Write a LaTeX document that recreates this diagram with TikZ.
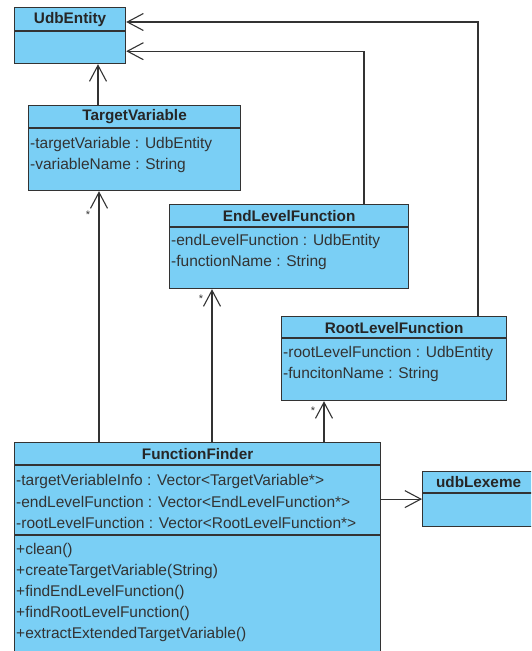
\documentclass[tikz,border=0pt]{standalone}
\usepackage{fontspec}
\setmainfont{Liberation Sans}
\usepackage{tikz}
\usetikzlibrary{calc,arrows.meta}

\definecolor{umlblue}{RGB}{122,207,245}
\definecolor{umlline}{RGB}{51,51,51}

\begin{document}
\begin{tikzpicture}[x=1pt,y=-1pt,
        classbox/.style={draw=umlline,fill=umlblue,line width=1.2pt,anchor=north west,inner sep=0pt},
        divider/.style={draw=umlline,line width=1.2pt},
        classtitle/.style={font=\bfseries\fontsize{15.3}{17}\selectfont,text=black!85,inner sep=0pt},
        attr/.style={font=\fontsize{15.5}{17}\selectfont,text=black!80,anchor=west,inner sep=0pt},
        assoc/.style={draw=umlline,line width=1.1pt,-{Straight Barb[length=16pt,width=17pt,line width=1.1pt]}},
        multlabel/.style={font=\fontsize{11}{11}\selectfont,text=black!80,inner sep=0pt}]
                \useasboundingbox (0,0) rectangle (531,651);
                \clip (0,0) rectangle (531,651);
                % classes
                \node[classbox,minimum width=111pt,minimum height=56pt] (ue) at (14,7) {};
                \node[classbox,minimum width=212pt,minimum height=85pt] (tv) at (28,105) {};
                \node[classbox,minimum width=239pt,minimum height=84pt] (elf) at (169,204) {};
                \node[classbox,minimum width=225pt,minimum height=84pt] (rlf) at (281,316) {};
                \node[classbox,minimum width=366pt,minimum height=220pt] (ff) at (14,442) {};
                \node[classbox,minimum width=112pt,minimum height=55pt] (ul) at (422,471) {};
                % compartments
                \draw[divider] ($(ue.north west)+(0,24)$) -- ($(ue.north east)+(0,24)$);
                \draw[divider] ($(tv.north west)+(0,23)$) -- ($(tv.north east)+(0,23)$);
                \draw[divider] ($(elf.north west)+(0,23)$) -- ($(elf.north east)+(0,23)$);
                \draw[divider] ($(rlf.north west)+(0,22)$) -- ($(rlf.north east)+(0,22)$);
                \draw[divider] ($(ff.north west)+(0,23)$) -- ($(ff.north east)+(0,23)$);
                \draw[divider] ($(ff.north west)+(0,93)$) -- ($(ff.north east)+(0,93)$);
                \draw[divider] ($(ul.north west)+(0,22)$) -- ($(ul.north east)+(0,22)$);
                % names
                \node[classtitle] (ue-name) at ($(ue.north)+(0,13)$) {UdbEntity};
                \node[classtitle] (tv-name) at ($(tv.north)+(0,12)$) {TargetVariable};
                \node[classtitle] (elf-name) at ($(elf.north)+(0,12)$) {EndLevelFunction};
                \node[classtitle] (rlf-name) at ($(rlf.north)+(0,12)$) {RootLevelFunction};
                \node[classtitle] (ff-name) at ($(ff.north)+(0,12)$) {FunctionFinder};
                \node[classtitle] (ul-name) at ($(ul.north)+(0,11)$) {udbLexeme};
                % members
                \foreach \txt [count=\i] in {-targetVariable : UdbEntity,-variableName : String}
                    \node[attr] (tv-a\i) at ($(tv.north west)+(2,18+21*\i)$) {\txt};
                \foreach \txt [count=\i] in {-endLevelFunction : UdbEntity,-functionName : String}
                    \node[attr] (elf-a\i) at ($(elf.north west)+(2,16+21*\i)$) {\txt};
                \foreach \txt [count=\i] in {-rootLevelFunction : UdbEntity,-funcitonName : String}
                    \node[attr] (rlf-a\i) at ($(rlf.north west)+(2,16+21*\i)$) {\txt};
                \foreach \txt [count=\i] in {-targetVeriableInfo : Vector<TargetVariable*>,
                        -endLevelFunction : Vector<EndLevelFunction*>,
                        -rootLevelFunction : Vector<RootLevelFunction*>}
                    \node[attr] (ff-a\i) at ($(ff.north west)+(2,18+21*\i)$) {\txt};
                \foreach \txt [count=\i] in {+clean(),+createTargetVariable(String),+findEndLevelFunction(),
                        +findRootLevelFunction(),+extractExtendedTargetVariable()}
                    \node[attr] (ff-m\i) at ($(ff.north west)+(2,87+21*\i)$) {\txt};
                % associations
                \draw[assoc] (tv.north west) ++(70,0) coordinate (tvup) -- (tvup |- ue.south);
                \draw[assoc] (elf.north west) ++(195,0) coordinate (elfup) |- ($(ue.south east)+(0,-13)$);
                \draw[assoc] (rlf.north west) ++(197,0) coordinate (rlfup) |- ($(ue.north east)+(0,15)$);
                \draw[assoc] (ff.north west) ++(85,0) coordinate (fftv) -- (fftv |- tv.south);
                \draw[assoc] (ff.north west) ++(198,0) coordinate (ffelf) -- (ffelf |- elf.south);
                \draw[assoc] (ff.north west) ++(310,0) coordinate (ffrlf) -- (ffrlf |- rlf.south);
                \draw[assoc] (ul.west -| ff.east) -- (ul.west);
                % multiplicities
                \node[multlabel] (m-tv) at ($(fftv |- tv.south)+(-11,24)$) {*};
                \node[multlabel] (m-elf) at ($(ffelf |- elf.south)+(-11,10)$) {*};
                \node[multlabel] (m-rlf) at ($(ffrlf |- rlf.south)+(-11,10)$) {*};
\end{tikzpicture}
\end{document}
